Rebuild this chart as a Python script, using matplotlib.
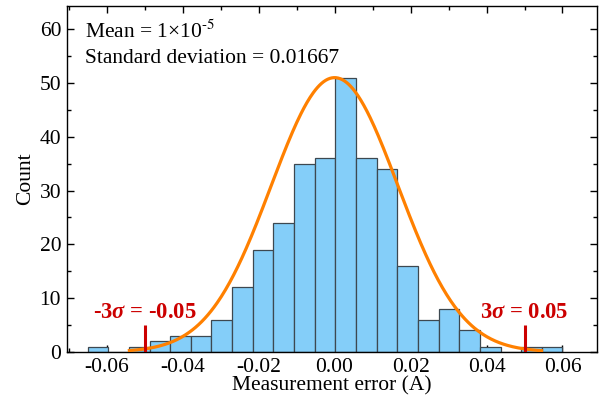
import numpy as np
import matplotlib
matplotlib.use("Agg")
import matplotlib.pyplot as plt
from matplotlib.ticker import MultipleLocator

plt.rcParams["font.family"] = ["Liberation Serif", "DejaVu Serif"]
plt.rcParams["mathtext.fontset"] = "stix"
# bold Times-like set used only by the red 3-sigma labels
plt.rcParams["mathtext.rm"] = "Liberation Serif:bold"
plt.rcParams["mathtext.it"] = "Liberation Serif:italic:bold"
plt.rcParams["mathtext.bf"] = "Liberation Serif:bold"
plt.rcParams["font.size"] = 15.5

# histogram of measurement error (300 samples, 23 bins)
bin_lo = -0.0650
bin_hi = 0.0600
counts = [1, 0, 1, 2, 3, 3, 6, 12, 19, 24, 35, 36, 51, 36, 34, 16, 6, 8, 4, 1, 0, 1, 1]

# fitted normal curve
mean = 1e-5
std = 0.01667
peak = 51
curve_lo = -0.054
curve_hi = 0.0545

# 3-sigma markers
sigma_x = [-0.05, 0.05]
sigma_labels = [r"-3$\sigma$ = -0.05", r"3$\sigma$ = 0.05"]

edges = np.linspace(bin_lo, bin_hi, len(counts) + 1)
width = edges[1] - edges[0]

fig = plt.figure(figsize=(6.08, 4.05), dpi=100)
ax = fig.add_axes([0.1097, 0.1309, 0.8717, 0.8541])

ax.bar(edges[:-1], counts, width=width, align="edge", color="#84CEF9",
       edgecolor="#3d4850", linewidth=0.9, zorder=2)

xs = np.linspace(curve_lo, curve_hi, 400)
ys = peak * np.exp(-(xs - mean) ** 2 / (2 * std ** 2))
ax.plot(xs, ys, color="#FF8000", lw=2.3, zorder=3)

for sx, lab in zip(sigma_x, sigma_labels):
    ax.plot([sx, sx], [0, 5], color="#CC0000", lw=2.2, zorder=4, solid_capstyle="butt")
    ax.text(sx, 7.3, lab, color="#CC0000", fontweight="bold", ha="center",
            va="center", fontsize=16.3, zorder=5, math_fontfamily="custom")

ax.text(0.034, 0.925, r"Mean = 1×10$^{\text{-}5}$", transform=ax.transAxes,
        va="center", ha="left")
ax.text(0.034, 0.847, "Standard deviation = 0.01667", transform=ax.transAxes,
        va="center", ha="left")

ax.set_xlim(-0.0705, 0.069)
ax.set_ylim(0, 64.3)
ax.xaxis.set_major_locator(MultipleLocator(0.02))
ax.xaxis.set_minor_locator(MultipleLocator(0.01))
ax.yaxis.set_major_locator(MultipleLocator(10))
ax.yaxis.set_minor_locator(MultipleLocator(5))
ax.xaxis.set_major_formatter(plt.FuncFormatter(lambda v, p: f"{v:.2f}".replace("-0.00", "0.00")))
ax.tick_params(which="both", direction="in", top=True, right=True, width=1.0)
ax.tick_params(which="major", length=5, pad=4)
ax.tick_params(which="minor", length=3)
for s in ax.spines.values():
    s.set_linewidth(1.0)

ax.set_xlabel("Measurement error (A)", labelpad=0)
ax.set_ylabel("Count", labelpad=3)

fig.savefig("out.png", dpi=100)
